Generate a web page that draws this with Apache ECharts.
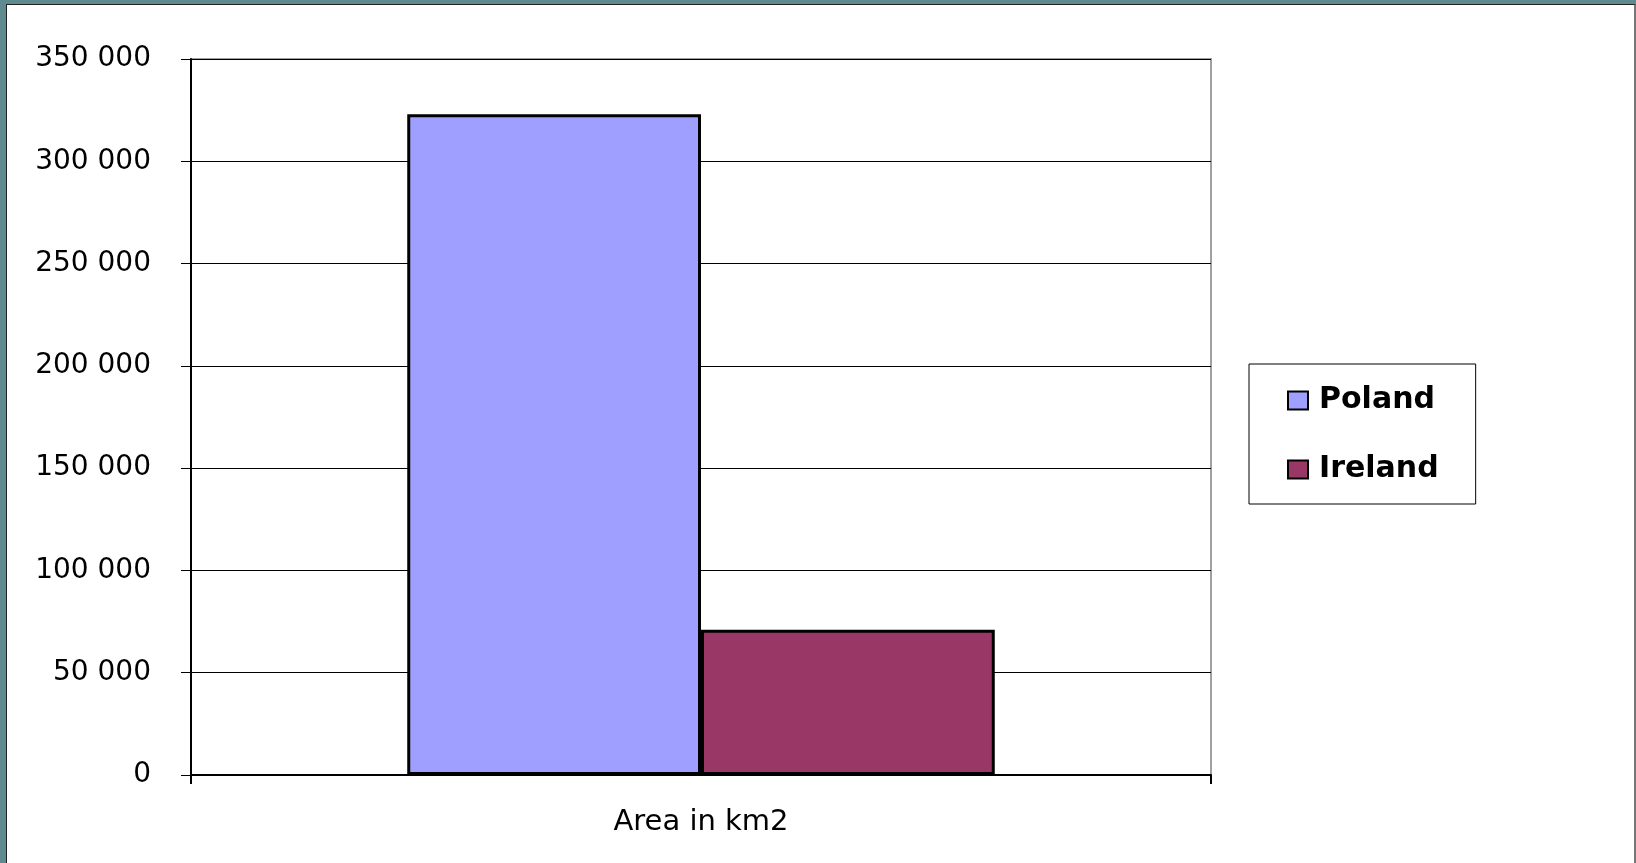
<!DOCTYPE html>
<html>
<head>
<meta charset="utf-8">
<script src="https://cdn.jsdelivr.net/npm/echarts@6/dist/echarts.min.js"></script>
<style>
  html, body { margin: 0; padding: 0; background: #fff; }
  .frame {
    width: 1636px;
    height: 863px;
    box-sizing: border-box;
    background: #fff;
    border-top: 4px solid #5f8a8f;
    border-left: 6px solid #5f8a8f;
    position: relative;
  }
  .frame::before {
    content: '';
    position: absolute;
    left: 0; top: 0; right: 0; bottom: 0;
    border-top: 1px solid #222;
    border-left: 1px solid #222;
    border-right: 2px solid #777;
    pointer-events: none;
    z-index: 2;
  }
  #chart { position: absolute; left: -6px; top: -4px; width: 1636px; height: 863px; }
</style>
</head>
<body>
<div class="frame"><div id="chart"></div></div>
<script>
// data
const categories = ['Area in km2']
const seriesNames = ['Poland', 'Ireland']
const polandValues = [323000]
const irelandValues = [71000]
const yTicks = { min: 0, max: 350000, interval: 50000 }

const fmt = v => v === 0 ? '0' : String(v).replace(/\B(?=(\d{3})+(?!\d))/g, ' ')

let myChart = echarts.init(document.getElementById('chart'))
myChart.setOption({
  animation: false,
  grid: {
    left: 191,
    top: 59,
    right: 425,
    bottom: 88,
    show: true,
    borderColor: '#a0a0a0',
    borderWidth: 2
  },
  legend: {
    orient: 'vertical',
    left: 1249,
    top: 364,
    padding: [21, 37, 19, 38],
    itemGap: 38,
    itemWidth: 20,
    itemHeight: 18,
    icon: 'rect',
    borderColor: '#000',
    borderWidth: 1,
    data: seriesNames,
    itemStyle: { borderColor: '#000', borderWidth: 2 },
    textStyle: {
      fontFamily: 'DejaVu Sans',
      fontWeight: 'bold',
      fontSize: 30,
      lineHeight: 31,
      color: '#000',
      padding: [0, 0, 0, 6]
    }
  },
  xAxis: {
    type: 'category',
    data: categories,
    axisLine: { show: true, lineStyle: { color: '#000', width: 2 } },
    axisTick: { show: true, length: 9, lineStyle: { color: '#000', width: 2 } },
    axisLabel: {
      margin: 33,
      fontFamily: 'DejaVu Sans',
      fontSize: 29,
      color: '#000'
    },
    splitLine: { show: false }
  },
  yAxis: {
    type: 'value',
    min: yTicks.min,
    max: yTicks.max,
    interval: yTicks.interval,
    axisLine: { show: true, lineStyle: { color: '#000', width: 2 } },
    axisTick: { show: true, length: 10, lineStyle: { color: '#000', width: 1 } },
    axisLabel: {
      margin: 40,
      fontFamily: 'DejaVu Sans',
      fontSize: 28,
      color: '#000',
      formatter: fmt
    },
    splitLine: { show: true, lineStyle: { color: '#000', width: 1 } }
  },
  series: [
    {
      name: seriesNames[0],
      type: 'bar',
      data: polandValues,
      barGap: '0%',
      barCategoryGap: '42.4%',
      itemStyle: { color: '#9f9fff', borderColor: '#000', borderWidth: 3 }
    },
    {
      name: seriesNames[1],
      type: 'bar',
      data: irelandValues,
      barGap: '0%',
      barCategoryGap: '42.4%',
      itemStyle: { color: '#993867', borderColor: '#000', borderWidth: 3 }
    }
  ]
})
</script>
</body>
</html>
